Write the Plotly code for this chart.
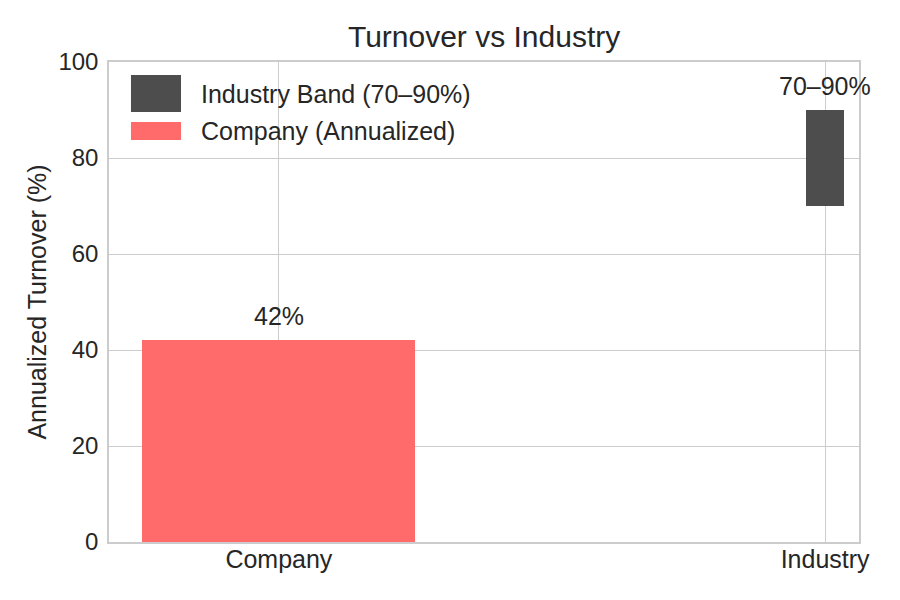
import plotly.graph_objects as go

categories = ["Company", "Industry"]
cat_pos = [0, 1]
company_value = [42]
industry_low = [70]
industry_high = [90]
company_label = ["42%"]
industry_label = ["70–90%"]
legend_names = ["Industry Band (70–90%)", "Company (Annualized)"]

RED = "#ff6b6b"
GRAY = "#4d4d4d"
FONT = "Liberation Sans, Arial, sans-serif"
TXT = "#262626"
FS = 25

fig = go.Figure()
fig.add_trace(go.Bar(
    x=[cat_pos[0]], y=company_value, width=0.5, marker=dict(color=RED, line=dict(width=0)),
    name=legend_names[1], showlegend=False,
))
fig.add_trace(go.Bar(
    x=[cat_pos[1]], y=[industry_high[0] - industry_low[0]], base=industry_low, width=0.07,
    marker=dict(color=GRAY, line=dict(width=0)),
    name=legend_names[0], showlegend=False,
))

# value labels
fig.add_annotation(x=cat_pos[0], y=company_value[0], text=company_label[0], showarrow=False,
                   yanchor="bottom", yshift=8, font=dict(size=FS, color=TXT, family=FONT))
fig.add_annotation(x=cat_pos[1], y=industry_high[0], text=industry_label[0], showarrow=False,
                   yanchor="bottom", yshift=8, font=dict(size=FS, color=TXT, family=FONT))

# manual legend (patches + labels)
fig.add_shape(type="rect", xref="paper", yref="paper", x0=0.0293, x1=0.096, y0=0.896, y1=0.973,
              fillcolor=GRAY, line=dict(width=0))
fig.add_shape(type="rect", xref="paper", yref="paper", x0=0.0293, x1=0.096, y0=0.8375, y1=0.875,
              fillcolor=RED, line=dict(width=0))
fig.add_annotation(xref="paper", yref="paper", x=0.1195, y=0.933, text=legend_names[0],
                   showarrow=False, xanchor="left", yanchor="middle",
                   font=dict(size=FS, color=TXT, family=FONT))
fig.add_annotation(xref="paper", yref="paper", x=0.1195, y=0.856, text=legend_names[1],
                   showarrow=False, xanchor="left", yanchor="middle",
                   font=dict(size=FS, color=TXT, family=FONT))

fig.update_layout(
    width=900, height=600,
    margin=dict(l=101, r=49, t=54, b=66),
    plot_bgcolor="white", paper_bgcolor="white",
    font=dict(family=FONT, color=TXT, size=FS),
    title=dict(text="Turnover vs Industry", x=0.529, xanchor="center", y=0.952, yanchor="middle",
               font=dict(size=30, color=TXT, family=FONT)),
    showlegend=False,
    bargap=0,
)
fig.update_xaxes(
    range=[-0.311, 1.062], tickvals=cat_pos, ticktext=categories,
    showgrid=True, gridcolor="#cccccc", gridwidth=1,
    showline=True, linecolor="#cccccc", linewidth=1.5, mirror=True,
    ticks="", zeroline=False, tickfont=dict(size=FS, color=TXT), ticklabelstandoff=-6,
)
fig.update_yaxes(
    range=[0, 100], tickvals=[0, 20, 40, 60, 80, 100],
    showgrid=True, gridcolor="#cccccc", gridwidth=1,
    showline=True, linecolor="#cccccc", linewidth=1.5, mirror=True,
    ticks="", zeroline=False, tickfont=dict(size=24, color=TXT), ticklabelstandoff=4,
    title=dict(text="Annualized Turnover (%)", font=dict(size=FS, color=TXT), standoff=5),
)

fig.write_html("out.html")
